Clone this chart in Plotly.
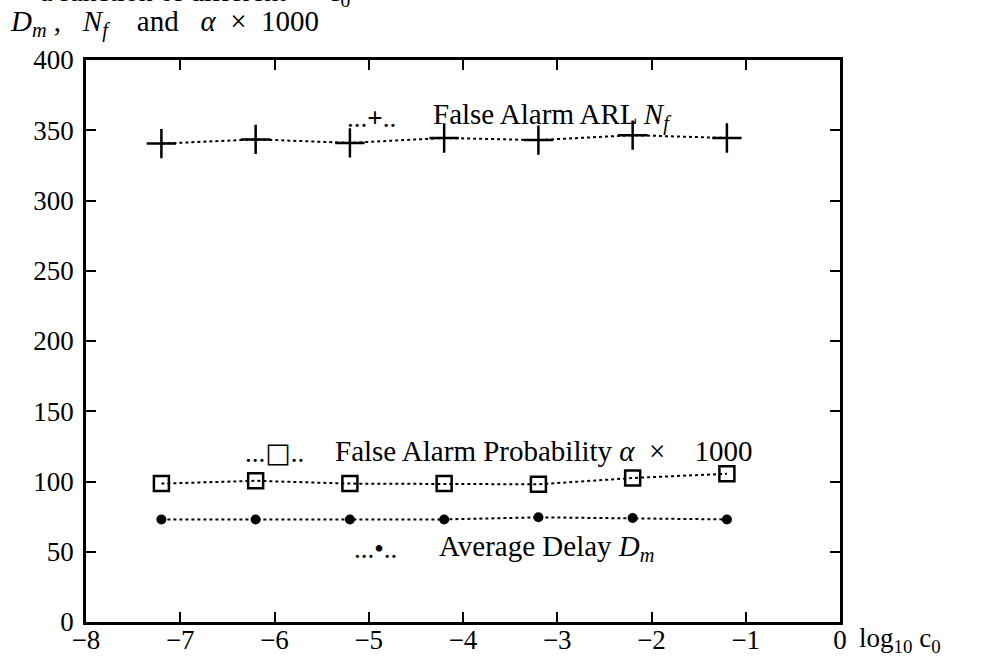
import plotly.graph_objects as go

# log10 of the threshold constant c0
log_c0 = [-7.2, -6.2, -5.2, -4.2, -3.2, -2.2, -1.2]

# false alarm average run length N_f
arl_nf = [340.5, 343.5, 341, 344.5, 343, 346.5, 344.5]
# false alarm probability alpha, scaled by 1000
alpha_x1000 = [98.5, 100.5, 98.5, 98.5, 98, 102.5, 105.5]
# average detection delay D_m
delay_dm = [73, 73, 73, 73, 74.5, 74, 73]

x_ticks = [-8, -7, -6, -5, -4, -3, -2, -1, 0]
y_ticks = [0, 50, 100, 150, 200, 250, 300, 350, 400]

FONT = "Liberation Serif"
INK = "black"
SQ = '<span style="font-family:DejaVu Sans">□</span>'
SP = "&nbsp;"

fig = go.Figure()

fig.add_trace(go.Scatter(
    x=log_c0, y=arl_nf, mode="lines+markers",
    line=dict(color=INK, width=2, dash="dot"),
    marker=dict(symbol="cross-thin", size=21, line=dict(color=INK, width=2.5)),
    showlegend=False,
))
fig.add_trace(go.Scatter(
    x=log_c0, y=alpha_x1000, mode="lines+markers",
    line=dict(color=INK, width=2, dash="dot"),
    marker=dict(symbol="square-open", size=15, color=INK, line=dict(color=INK, width=2.5)),
    showlegend=False,
))
fig.add_trace(go.Scatter(
    x=log_c0, y=delay_dm, mode="lines+markers",
    line=dict(color=INK, width=2, dash="dot"),
    marker=dict(symbol="circle", size=10, color=INK),
    showlegend=False,
))

# series keys written inside the plotting area
keys = [
    ("...<b>+</b>..", -4.97, 359, "False Alarm ARL <i>N<sub>f</sub></i>", -4.34, 360),
    ("..." + SQ + "..", -6.0, 121,
     "False Alarm Probability <i>α</i>" + SP * 2 + "×" + SP * 4 + "1000", -5.38, 122),
    ("...•..", -4.93, 52, "Average Delay <i>D<sub>m</sub></i>", -4.28, 53),
]
for sym, sx, sy, label, lx, ly in keys:
    fig.add_annotation(x=sx, y=sy, xref="x", yref="y", text=sym, showarrow=False,
                       font=dict(family=FONT, size=27, color=INK))
    fig.add_annotation(x=lx, y=ly, xref="x", yref="y", text=label, showarrow=False,
                       xanchor="left", font=dict(family=FONT, size=29, color=INK))

# heading above the axes (its first line runs off the top of the page)
fig.add_annotation(x=-0.064, y=1.0, xref="paper", yref="paper", yshift=67,
                   text="a" + SP + "function" + SP + "of" + SP + "different" + SP * 6 + "c<sub>0</sub>",
                   showarrow=False, xanchor="left", yanchor="middle",
                   font=dict(family=FONT, size=28, color=INK))
fig.add_annotation(
    xref="paper", yref="paper", x=-0.104, y=1.0, xanchor="left", yanchor="middle", yshift=37,
    text="<i>D<sub>m</sub></i> ," + SP * 3 + "<i>N<sub>f</sub></i>" + SP * 4 + "and" + SP * 3
         + "<i>α</i>" + SP * 2 + "×" + SP * 2 + "1000",
    showarrow=False, font=dict(family=FONT, size=29, color=INK),
)
fig.add_annotation(
    xref="paper", yref="paper", x=1.023, y=0.0, xanchor="left", yanchor="middle", yshift=-18,
    text="log<sub>10</sub> c<sub>0</sub>", showarrow=False,
    font=dict(family=FONT, size=27, color=INK),
)

axis_common = dict(
    showline=True, linecolor=INK, linewidth=2.5, mirror="ticks",
    ticks="inside", ticklen=10, tickwidth=1.5, tickcolor=INK,
    showgrid=False, zeroline=False, automargin=False,
    tickfont=dict(family=FONT, size=27, color=INK),
)

fig.update_xaxes(range=[-8, 0], tickvals=x_ticks,
                 ticktext=[str(v).replace("-", "−") for v in x_ticks],
                 ticklabelstandoff=-8, **axis_common)
fig.update_yaxes(range=[0, 400], tickvals=y_ticks,
                 ticktext=[str(v) for v in y_ticks], ticklabelstandoff=4, **axis_common)

fig.update_layout(
    width=991, height=661,
    margin=dict(l=86, r=151, t=60, b=39),
    paper_bgcolor="white", plot_bgcolor="white",
    font=dict(family=FONT, color=INK),
)

fig.write_html("out.html")
